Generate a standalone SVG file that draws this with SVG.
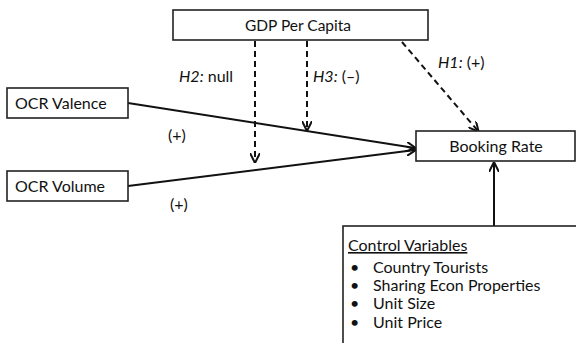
<svg xmlns="http://www.w3.org/2000/svg" width="576" height="343" viewBox="0 0 576 343">
<style>
.box{fill:#fff;stroke:#222;stroke-width:1.6}
.t{font-family:Lato,"Liberation Sans",sans-serif;font-size:16px;fill:#111}
.i{font-style:italic}
.solid{stroke:#111;stroke-width:2;fill:none}
.dash{stroke:#111;stroke-width:2;fill:none;stroke-dasharray:6,4}
</style>
<defs>
<marker id="ah" viewBox="0 0 10 10" refX="9" refY="5" markerWidth="5" markerHeight="5" orient="auto-start-reverse" markerUnits="strokeWidth">
<path d="M0,0 L10,5 L0,10" fill="none" stroke="#111" stroke-width="2"/>
</marker>
</defs>
<g id="connectors">
<line class="solid" x1="128" y1="103" x2="415" y2="148" marker-end="url(#ah)"/>
<line class="solid" x1="128" y1="186" x2="415" y2="150" marker-end="url(#ah)"/>
<line class="dash" x1="255" y1="41" x2="255" y2="162" marker-end="url(#ah)"/>
<line class="dash" x1="307" y1="41" x2="307" y2="130" marker-end="url(#ah)"/>
<line class="dash" x1="402" y1="42" x2="478" y2="131" marker-end="url(#ah)"/>
<line class="solid" x1="494" y1="226" x2="494" y2="163" marker-end="url(#ah)"/>
<text class="t" x="179" y="82"><tspan class="i">H2:</tspan> null</text>
<text class="t" x="313" y="82"><tspan class="i">H3:</tspan> (–)</text>
<text class="t" x="438" y="68"><tspan class="i">H1:</tspan> (+)</text>
<text class="t" x="168" y="141">(+)</text>
<text class="t" x="170" y="210">(+)</text>
</g>
<g id="gdp">
<rect class="box" x="173" y="10" width="255" height="30"/>
<text class="t" x="298" y="31" text-anchor="middle" style="font-size:15.5px">GDP Per Capita</text>
</g>
<g id="valence">
<rect class="box" x="7" y="88" width="121" height="30"/>
<text class="t" x="15" y="109">OCR Valence</text>
</g>
<g id="volume">
<rect class="box" x="7" y="171" width="121" height="30"/>
<text class="t" x="15" y="192">OCR Volume</text>
</g>
<g id="booking">
<rect class="box" x="416" y="131" width="159" height="30"/>
<text class="t" x="496" y="152" text-anchor="middle">Booking Rate</text>
</g>
<g id="controls">
<rect class="box" x="343" y="226" width="240" height="130"/>
<text class="t" x="348" y="251" text-decoration="underline">Control Variables</text>
<text class="t" x="350" y="273">•</text><text class="t" x="373" y="273">Country Tourists</text>
<text class="t" x="350" y="291">•</text><text class="t" x="373" y="291">Sharing Econ Properties</text>
<text class="t" x="350" y="309">•</text><text class="t" x="373" y="309">Unit Size</text>
<text class="t" x="350" y="328">•</text><text class="t" x="373" y="328">Unit Price</text>
</g>
</svg>
